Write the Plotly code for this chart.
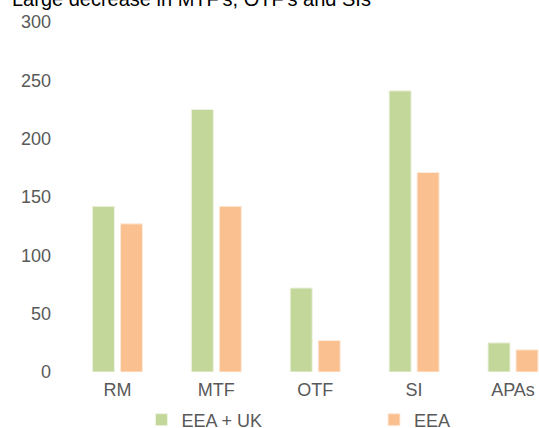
import plotly.graph_objects as go

categories = ["RM", "MTF", "OTF", "SI", "APAs"]
eea_uk = [142, 225, 72, 241, 25]
eea = [127, 142, 27, 171, 19]
y_ticks = [0, 50, 100, 150, 200, 250, 300]
title_text = "Large decrease in MTF's, OTF's and SIs"

FONT = "Liberation Sans, Arial, sans-serif"
GREY = "#595959"

fig = go.Figure()
fig.add_trace(go.Bar(name="EEA + UK", x=categories, y=eea_uk, legend="legend",
                     marker=dict(color="#C4D79B", line=dict(color="#EEF3E2", width=1))))
fig.add_trace(go.Bar(name="EEA", x=categories, y=eea, legend="legend2",
                     marker=dict(color="#FAC090", line=dict(color="#FDEBDC", width=1))))

leg_common = dict(orientation="h", xref="container", yref="container",
                  xanchor="left", yanchor="middle",
                  font=dict(family=FONT, size=18, color=GREY),
                  bgcolor="rgba(0,0,0,0)", itemclick=False, itemdoubleclick=False)

fig.update_layout(
    width=539, height=428,
    margin=dict(l=68, r=0, t=22, b=56, pad=0),
    paper_bgcolor="white", plot_bgcolor="white",
    barmode="group", bargap=0.434, bargroupgap=0.214,
    font=dict(family=FONT, size=18, color=GREY),
    showlegend=True,
    legend=dict(x=0.2625, y=0.0187, **leg_common),
    legend2=dict(x=0.6939, y=0.0187, **leg_common),
    annotations=[dict(text=title_text, xref="paper", yref="paper", x=0, y=1,
                      xanchor="left", yanchor="bottom", xshift=-58, yshift=10,
                      showarrow=False, font=dict(family=FONT, size=20, color="#000000"))],
)
fig.update_xaxes(range=[-0.5, 4.263], showgrid=False, showline=False, zeroline=False,
                 ticks="", ticklabelstandoff=5,
                 tickfont=dict(family=FONT, size=18, color=GREY), fixedrange=True)
fig.update_yaxes(range=[0, 300], tickvals=y_ticks, showgrid=False, showline=False,
                 zeroline=False, ticks="", ticklabelstandoff=16,
                 tickfont=dict(family=FONT, size=18, color=GREY), fixedrange=True)

fig.write_html("out.html", config={"displayModeBar": False},
               post_script="document.body.style.margin='0';document.body.style.overflow='hidden';")
